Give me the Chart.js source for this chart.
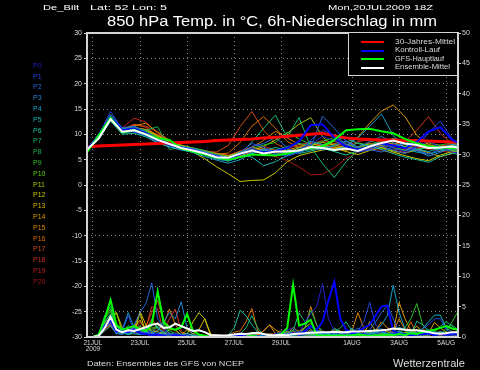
<!DOCTYPE html>
<html><head><meta charset="utf-8">
<script src="https://cdn.jsdelivr.net/npm/chart.js@4.4.1/dist/chart.umd.min.js"></script>
<style>
html,body{margin:0;padding:0;background:#000;}
#wrap{position:relative;width:480px;height:370px;overflow:hidden;background:#000;}
#c{position:absolute;left:0;top:0;}
.t{position:absolute;white-space:nowrap;font-family:'Liberation Sans',Arial,sans-serif;transform-origin:0 0;}
.g{filter:grayscale(1);}
</style></head>
<body><div id="wrap"><canvas id="c" width="480" height="370"></canvas></div>
<script>
// ---- time axes (hours after 20JUL2009 18Z) ----
const hours12 = [0,12,24,36,48,60,72,84,96,108,120,132,144,156,168,180,192,204,216,228,240,252,264,276,288,300,312,324,336,348,360,372,384];
const hours6 = [0,6,12,18,24,30,36,42,48,54,60,66,72,78,84,90,96,102,108,114,120,126,132,138,144,150,156,162,168,174,180,186,192,198,204,210,216,222,228,234,240,246,252,258,264,270,276,282,288,294,300,306,312,318,324,330,336,342,348,354,360,366,372,378,384];
const tickHours = [6,54,102,150,198,270,318,366];
const tickLabels = [['21JUL','2009'],'23JUL','25JUL','27JUL','29JUL','1AUG','3AUG','5AUG'];
const tempTicksLeft = [-30,-25,-20,-15,-10,-5,0,5,10,15,20,25,30];
const precipTicksRight = [0,5,10,15,20,25,30,35,40,45,50];

const memberNames = ['P0','P1','P2','P3','P4','P5','P6','P7','P8','P9','P10','P11','P12','P13','P14','P15','P16','P17','P18','P19','P20'];
const memberColors = ['#2222c8','#2244dc','#2266d8','#2088d0','#18a0c8','#18b2b4','#18be98','#18be70','#18b450','#2cbe28','#60c814','#a0c800','#c8c800','#d2b400','#dc9a00','#dc8400','#dc6c00','#d24c14','#d23228','#c41e1e','#a01414'];

// 850 hPa temperature (°C) per member, 12-hourly
const tP0  = [6.8,9.6,13.2,10.6,11.0,10.2,8.7,7.8,7.2,6.7,6.1,5.5,5.1,6.0,7.3,6.4,5.9,6.3,7.1,8.0,9.6,8.8,7.4,6.6,7.2,8.1,7.3,6.6,7.7,8.6,7.4,6.5,6.2];
const tP1  = [7.0,9.9,14.5,11.0,10.4,9.8,8.6,7.8,7.4,6.9,6.3,5.9,5.3,6.4,8.2,7.5,6.1,5.7,6.4,8.9,10.8,9.9,8.1,6.5,6.9,7.7,6.9,6.2,7.5,10.3,12.6,9.1,7.6];
const tP2  = [7.1,10.1,13.8,11.3,11.6,10.5,9.1,8.0,7.5,7.1,6.5,5.7,5.2,6.1,7.6,8.2,9.4,7.3,6.3,7.4,13.6,11.2,8.6,7.3,7.0,6.5,7.5,8.3,6.9,6.1,7.1,7.6,7.3];
const tP3  = [6.9,9.3,13.1,10.5,10.9,10.1,8.9,8.2,7.1,6.6,6.0,5.2,4.7,5.5,6.4,7.1,6.7,6.2,6.9,7.5,6.9,7.8,8.7,7.5,8.5,9.6,8.3,7.4,6.8,5.7,6.4,7.7,8.1];
const tP4  = [7.0,9.2,13.0,10.2,10.6,9.7,8.4,7.6,7.0,6.4,5.6,4.9,4.3,5.0,6.3,6.9,6.2,5.9,6.6,8.6,8.0,6.9,7.7,9.3,11.6,14.0,9.8,7.2,6.5,6.1,6.7,7.0,6.7];
const tP5  = [7.2,9.7,13.4,11.1,11.3,10.3,9.0,8.3,7.6,7.2,6.6,5.8,5.4,6.0,5.5,3.8,4.6,5.8,6.6,7.0,7.8,8.9,9.3,8.2,7.6,8.2,9.1,8.0,7.1,6.6,7.3,8.0,7.6];
const tP6  = [6.7,9.0,12.6,10.0,10.2,9.5,8.3,7.5,6.9,6.5,5.9,5.1,4.8,5.6,6.2,6.8,7.4,6.9,6.2,6.7,7.3,6.6,5.9,6.8,7.6,7.0,6.2,5.5,5.0,4.5,5.6,6.3,5.8];
const tP7  = [6.6,9.4,13.3,10.7,11.1,10.4,9.3,7.9,7.3,6.8,6.2,5.6,5.0,6.0,8.5,11.2,13.8,9.4,13.3,7.5,4.2,1.5,4.6,6.8,7.5,8.0,7.3,6.8,7.0,7.4,6.9,7.2,7.5];
const tP8  = [6.9,9.5,13.6,10.9,11.2,10.8,11.5,7.0,7.4,7.0,6.4,5.5,5.3,6.3,7.0,6.5,6.9,7.6,8.2,7.8,7.2,7.9,8.5,9.2,8.7,8.0,7.6,8.2,9.0,8.4,7.7,7.2,7.0];
const tP9  = [6.8,9.8,13.7,11.0,11.5,10.6,9.4,8.4,7.7,7.3,6.8,6.1,5.6,6.5,7.2,7.9,8.4,10.4,9.1,8.0,8.6,9.4,8.1,7.3,7.9,8.6,9.2,8.8,8.1,7.5,7.9,8.3,8.0];
const tP10 = [7.0,9.9,13.9,11.2,11.0,10.1,8.8,8.0,7.3,6.9,6.4,5.7,5.5,6.3,6.8,6.4,6.0,6.5,7.3,7.9,7.2,6.7,7.4,8.3,7.8,7.2,6.8,7.6,8.4,7.8,7.1,6.8,6.5];
const tP11 = [7.1,9.5,13.1,10.6,11.4,10.8,9.6,8.5,7.8,7.2,6.6,6.0,5.6,6.2,6.8,7.6,8.9,10.2,12.0,13.3,9.5,7.6,6.9,7.5,8.1,7.4,6.7,6.3,6.9,7.5,7.0,6.6,6.9];
const tP12 = [7.0,9.3,12.8,10.3,10.9,10.0,8.8,7.9,7.2,6.5,5.2,3.6,2.2,0.7,0.9,1.0,2.4,4.6,5.8,6.4,6.9,7.3,6.6,6.0,6.8,7.4,6.5,5.8,5.2,4.8,5.9,6.6,6.3];
const tP13 = [6.9,9.7,13.5,10.9,11.3,10.6,9.5,8.4,7.7,7.0,6.2,5.4,4.9,5.8,6.5,7.2,6.8,6.3,7.0,7.8,8.4,7.9,7.2,6.6,7.1,7.8,8.3,7.6,7.0,6.4,5.6,6.2,6.8];
const tP14 = [7.2,9.9,13.6,11.0,11.4,10.9,9.8,8.6,7.6,6.9,6.3,5.8,5.7,6.6,7.2,6.9,6.4,6.9,7.5,8.2,7.6,7.1,7.8,9.4,12.2,14.6,15.8,13.5,9.8,8.0,7.4,7.8,8.2];
const tP15 = [7.1,9.6,13.0,10.8,11.7,12.2,10.4,8.8,7.9,7.3,6.7,6.2,5.8,6.5,7.4,8.8,10.6,9.3,8.0,7.4,7.9,8.6,8.0,7.3,6.9,7.5,8.1,8.8,8.2,7.6,7.1,7.4,7.7];
const tP16 = [6.8,9.4,12.9,10.5,11.2,11.0,9.9,8.6,7.5,6.8,6.4,6.1,6.3,8.4,11.6,13.5,11.2,8.6,7.4,6.9,7.5,8.2,7.7,6.9,7.4,8.0,7.4,6.9,7.6,8.3,7.8,7.3,7.0];
const tP17 = [7.0,9.5,13.0,10.9,12.0,11.4,9.7,8.3,7.4,7.0,6.6,6.5,7.8,11.5,14.5,10.8,8.2,7.1,6.6,7.3,8.0,7.4,6.8,7.5,8.3,7.6,6.9,6.4,7.1,7.8,7.3,6.9,7.2];
const tP18 = [7.1,9.8,13.2,11.1,11.8,11.6,10.5,8.7,7.7,7.1,6.8,6.3,5.9,6.7,7.5,7.0,6.6,7.2,7.9,8.4,7.8,7.3,7.8,8.5,9.1,8.4,7.9,8.6,10.8,13.5,10.2,8.1,7.4];
const tP19 = [6.9,9.6,12.9,11.3,13.2,12.4,10.2,8.5,7.6,7.0,6.5,5.9,5.4,6.1,6.9,7.6,7.0,6.5,7.2,8.1,8.8,8.0,7.3,6.8,7.4,8.1,8.7,8.0,7.5,7.0,7.6,8.2,7.9];
const tP20 = [7.0,9.3,12.7,10.4,11.0,10.3,9.1,8.1,7.3,6.7,6.0,5.3,4.9,5.7,6.6,6.2,5.6,4.8,3.6,2.0,2.1,3.4,5.2,6.5,7.2,6.8,6.3,7.0,7.7,7.2,6.7,6.4,6.8];
const tempControl = [7.0,9.7,13.5,10.8,11.2,10.2,9.0,8.1,7.4,6.9,6.2,5.6,5.2,6.1,6.8,6.4,6.7,7.3,8.6,11.8,12.0,9.3,7.6,7.0,7.6,8.3,7.8,7.2,8.5,10.6,11.4,8.9,7.8];
const tempMain    = [6.5,9.8,13.3,10.4,10.9,10.0,9.2,8.9,7.2,6.6,6.0,5.4,5.0,5.5,6.0,5.9,5.8,6.2,6.9,7.3,7.6,8.9,10.8,11.0,11.1,10.6,10.2,9.1,8.2,7.6,7.4,7.3,7.3];
const tempMean    = [7.0,9.2,13.0,10.5,10.8,10.0,8.9,8.1,7.3,6.8,6.2,5.5,5.4,6.2,6.8,6.2,6.6,6.6,6.8,7.5,7.3,6.9,7.2,6.7,7.6,8.3,8.8,8.2,7.9,7.3,7.4,7.6,7.2];
const tempClim    = [7.5,7.7,7.8,7.9,8.0,8.1,8.2,8.3,8.4,8.5,8.6,8.8,8.9,9.0,9.1,9.3,9.4,9.6,9.8,10.0,10.2,9.7,9.3,9.1,9.0,8.9,8.9,8.8,8.8,8.7,8.6,8.5,8.5];

// 6h precipitation (mm) per member, 6-hourly
const pP0  = [0,0,0.3,1.5,2.5, 1.0,0.8,1.6,0.5,0.9, 1.5,0.4,0.6,1.2,0.3, 0.6,0.2,0.4,0,0, 0,0,0,0.2,0, 0,0.1,0,0.3,0, 0.2,0,0.5,0.8,1.2, 1.5,0.6,2.5,3.8,5.0, 8.8,3.0,1.0,0.4,0.6, 1.0,0.4,0.6,0.3,0.5, 0.8,1.2,0.6,0.3,0.5, 0.2,0.4,0.8,0.5,0.3, 0.4,0.2,0.3,0.5,0.3];
const pP1  = [0,0,0.4,2.0,3.0, 1.4,0.9,3.5,1.0,0.8, 0.6,1.0,0.2,0.5,0.3, 0.4,0.1,0,0,0, 0,0,0,0,0, 0,0.4,0.2,0,0.2, 0,0.2,0.4,0.6,0.3, 0.5,0.9,0.6,1.8,1.0, 0.6,0.3,0.8,0.5,0.3, 0.5,1.0,2.5,5.7,2.0, 1.2,0.6,0.4,0.3,0.2, 0.6,0.3,1.4,2.0,3.0, 3.0,1.2,0.5,0.3,0.2];
const pP2  = [0,0,0.2,1.5,2.2, 0.6,0.4,0.9,2.0,4.0, 5.5,8.9,3.0,1.5,0.5, 0.5,0.4,0.2,0.1,0, 0.1,0,0,0,0, 0.3,0,0,0,0.2, 0,0,0.3,0.6,1.1, 0.5,0.3,0.4,1.0,0.6, 0.2,0.4,0.6,0.3,0.2, 0.8,1.5,0.6,1.2,2.5, 4.0,5.2,3.0,0.8,0.4, 0.3,0.2,0.5,0.3,0.8, 0.6,0.4,0.8,0.6,0.4];
const pP3  = [0,0,0.3,2.0,3.4, 1.2,0.8,0.6,1.8,0.5, 0.4,0.5,1.0,2.5,4.0, 3.0,5.8,1.5,0.4,0.2, 0.2,0,0,0,0, 0,0.3,0,0,0, 0.5,0.2,0.2,0.4,0.7, 0.3,0.5,0.4,0.6,1.2, 0.8,0.4,0.4,0.6,1.0, 0.3,0.3,0.4,0.6,0.8, 1.0,0.3,0.5,0.8,0.4, 0.6,0.4,0.6,1.2,0.5, 0.4,0.6,0.3,0.5,0.4];
const pP4  = [0,0,0.2,1.8,2.8, 0.9,1.2,4.0,1.5,1.2, 0.8,0.6,0.3,0.3,0.6, 0.3,0.5,0.2,0,0, 0,0,0,0,0, 0.5,0.2,0,0.2,0, 0,0,0.1,0.4,0.2, 0.6,0.4,0.3,0.8,0.4, 0.6,0.5,0.8,0.3,0.5, 1.5,0.4,0.6,0.5,0.9, 2.0,3.5,8.5,4.0,1.4, 0.6,0.6,0.3,0.9,0.4, 0.9,0.5,0.4,0.3,0.3];
const pP5  = [0,0,0.2,1.0,1.8, 0.5,0.7,0.4,0.6,0.4, 1.0,2.5,1.5,0.8,0.5, 0.3,0.3,0.6,0.2,0, 0,0.2,0,0,0, 0.4,0,0,0.6,0.2, 0.3,0.1,0.2,0.5,0.3, 0.2,0.5,0.4,0.3,0.2, 0.5,0.4,0.3,0.6,0.3, 0.8,0.5,0.3,0.4,0.7, 1.3,0.5,0.8,1.6,1.2, 0.5,0.8,1.4,2.5,3.6, 3.6,1.5,0.8,0.5,0.4];
const pP6  = [0,0,0.3,2.5,3.8, 1.0,0.6,0.5,0.8,1.0, 0.6,0.4,0.6,0.5,0.4, 0.2,0.3,0.2,0,0, 0,0,0,0,0.3, 1.5,4.4,3.5,2.0,0.8, 0.2,0,0,0.2,0.6, 0.4,0.8,0.6,0.5,0.8, 0.6,0.5,1.5,0.8,0.4, 0.3,0.6,0.4,1.0,0.5, 0.8,0.4,0.6,1.0,0.5, 0.4,2.6,2.0,1.0,0.8, 0.6,0.4,0.6,0.5,0.4];
const pP7  = [0,0,0.4,3.5,5.0, 1.6,1.2,1.0,1.2,1.8, 1.0,0.6,1.8,0.4,0.3, 0.4,0.2,0.5,0.3,0.1, 0,0,0,0,0, 0.3,0.5,1.5,3.5,1.5, 0.2,0.5,0.3,0.5,0.3, 1.0,4.0,2.5,1.2,0.6, 0.4,0.4,0.8,1.5,2.5, 1.0,0.6,0.4,0.3,0.8, 0.5,0.5,0.3,0.8,0.5, 0.3,0.6,0.4,0.5,0.8, 1.8,2.5,1.8,0.9,0.6];
const pP8  = [0,0,0.3,2.0,3.2, 0.8,0.8,1.9,1.0,1.2, 1.0,2.5,7.5,2.0,0.6, 0.4,0.4,0.3,0.2,0, 0,0,0,0.2,0, 0,0.2,0,0.3,0, 0.3,0,0,0.6,0.4, 1.2,0.4,1.5,4.4,2.0, 1.0,0.5,0.5,0.3,0.3, 0.9,0.4,0.3,0.4,0.2, 0.6,0.4,0.4,0.3,0.3, 0.9,0.5,0.4,0.5,0.3, 0.4,1.5,2.0,1.2,0.8];
const pP9  = [0,0,0.5,3.0,4.2, 1.8,1.0,0.7,0.5,0.5, 0.6,1.2,2.0,2.2,1.0, 0.6,0.4,0.4,0.2,0.2, 0,0,0,0,0, 0,0.2,0,0,0.2, 0,0.3,0.2,0.2,0.5, 0.3,0.6,0.4,0.6,0.5, 0.4,0.5,0.5,0.6,0.3, 0.6,0.4,0.6,0.8,0.4, 0.8,0.5,0.5,0.6,1.5, 3.0,5.5,2.0,1.0,0.6, 0.6,0.9,2.5,4.2,3.0];
const pP10 = [0,0,0.4,3.2,4.6, 1.2,1.0,1.0,0.6,0.6, 0.8,1.5,1.5,0.4,0.3, 0.3,0.3,0.3,0,0, 0,0,0,0,0, 0.3,0,0,0,0, 0.5,0.4,0.4,0.3,0.3, 0.2,0.2,0.8,0.4,0.4, 0.6,0.3,0.3,0.4,0.4, 1.1,0.6,0.6,0.3,0.3, 0.5,0.8,0.6,0.4,0.8, 0.6,0.4,0.3,0.3,0.5, 0.4,0.3,0.5,0.4,0.3];
const pP11 = [0,0,0.3,2.4,3.6, 4.0,0.7,1.3,0.9,0.9, 2.0,0.6,0.5,0.5,1.2, 1.2,0.3,0.3,0.2,0, 0,0,0,0,0, 0.2,0.5,0,0,0, 0,0,0.2,0.4,0.6, 0.3,0.5,0.3,0.3,0.3, 0.5,0.6,0.8,0.5,0.5, 0.3,0.7,0.4,0.6,0.4, 0.6,0.3,0.5,0.8,0.4, 0.3,0.5,0.6,0.4,0.8, 0.8,0.4,0.6,0.5,0.4];
const pP12 = [0,0,0.2,1.8,2.6, 4.0,1.5,0.8,0.6,4.0, 0.6,0.9,0.9,0.4,0.3, 0.6,0.4,0.5,2.5,4.0, 3.0,0.5,0.2,0,0, 0.4,0.2,0,0.8,0, 0.3,0,0.2,0.4,0.6, 0.3,0.5,0.6,0.3,0.5, 0.6,0.3,0.6,0.3,0.8, 0.4,0.5,0.4,0.6,0.3, 0.5,0.4,0.3,0.6,0.3, 0.5,0.4,0.3,0.5,0.4, 0.3,0.5,0.4,0.3,0.3];
const pP13 = [0,0,0.3,2.2,3.0, 0.9,0.6,0.6,1.5,4.2, 2.0,1.0,0.8,0.6,0.6, 0.5,0.3,1.2,0.5,1.2, 3.0,0.2,0,0,0, 0,0.3,0.2,0,0, 0,0,0.5,0.3,0.9, 0.5,0.8,1.5,2.3,1.0, 0.4,0.6,1.2,1.0,0.5, 0.6,0.5,0.4,2.5,1.0, 0.6,0.4,0.6,0.4,0.6, 0.9,1.8,0.8,0.6,0.4, 0.5,0.8,0.6,0.4,0.4];
const pP14 = [0,0,0.3,1.8,2.4, 0.8,1.1,0.7,1.4,2.8, 1.0,0.5,0.5,0.4,0.2, 0.6,0.2,0,0,0, 0,0,0,0.2,0, 0.4,0,0.2,0.3,0.4, 1.0,2.0,1.2,0.6,0.4, 1.6,0.8,0.5,1.2,0.6, 0.4,0.7,0.6,0.4,0.5, 1.2,0.6,0.4,0.6,1.0, 2.5,1.5,0.7,5.7,3.0, 1.0,0.5,1.4,0.6,2.4, 1.5,0.8,0.5,1.0,0.6];
const pP15 = [0,0,0.4,2.0,2.9, 1.3,0.7,0.9,1.6,1.0, 0.8,0.5,1.2,2.0,4.6, 2.0,0.7,0.5,0.3,0, 0,0,0,0,0, 0,0.4,0,0.6,0.3, 1.0,2.0,0.5,1.0,0.5, 0.6,1.0,1.5,5.0,2.0, 0.6,0.8,0.4,0.8,0.4, 1.0,4.0,1.5,0.5,0.6, 0.6,1.0,0.8,3.0,1.2, 0.5,1.2,0.6,0.8,0.5, 0.8,0.4,0.6,0.5,0.4];
const pP16 = [0,0,0.2,1.4,2.0, 0.6,1.5,0.8,0.5,0.8, 1.2,3.0,1.5,0.9,0.5, 0.3,0.3,0.2,0.2,0, 0,0,0,0.2,0.3, 0.8,1.0,2.5,4.7,1.0, 0.3,0.5,0.4,0.4,0.8, 0.6,0.5,0.4,0.9,0.6, 0.5,0.6,0.8,0.4,0.6, 0.8,0.4,0.6,0.5,0.9, 0.5,0.4,0.6,0.4,0.6, 2.5,0.4,0.6,0.8,0.6, 0.5,0.4,0.6,0.5,0.4];
const pP17 = [0,0,0.2,1.6,2.3, 1.0,0.6,0.8,2.0,1.5, 1.8,4.0,6.0,2.5,1.8, 1.0,0.4,0.2,0.2,0, 0,0,0,0,0, 0,0.5,0.3,0,0, 0,0.2,0.4,0.3,0.6, 0.9,0.4,0.6,0.5,0.4, 0.6,0.5,0.8,0.6,0.4, 0.4,0.6,0.5,0.8,0.6, 0.4,0.6,0.5,0.4,0.6, 0.8,0.4,0.6,0.5,0.4, 0.6,0.5,0.4,0.6,0.5];
const pP18 = [0,0,0.3,1.8,2.7, 0.8,0.9,0.6,0.8,1.0, 1.5,5.0,4.6,0.8,3.0, 4.6,1.0,0.3,0.6,0.2, 0.2,0,0,0,0.2, 0.3,0,0,0.4,0.2, 0.4,0.2,0.5,0.4,0.6, 0.4,0.6,1.0,0.4,0.6, 0.3,0.5,0.9,0.4,0.7, 0.5,0.3,0.5,0.4,0.6, 0.5,0.3,0.9,0.4,0.6, 0.7,0.5,0.3,0.5,0.4, 0.6,0.4,0.5,0.4,0.3];
const pP19 = [0,0,0.2,1.2,2.1, 0.7,0.5,1.2,0.8,2.4, 1.5,0.6,2.4,0.6,0.4, 0.2,0,0,0,0, 0,0,0,0,0, 0,0.2,0.4,0.2,0.4, 0.2,0.6,0.4,0.3,0.5, 0.4,0.3,0.6,0.5,0.4, 0.6,0.3,0.5,0.4,0.3, 0.5,0.4,0.3,0.6,0.5, 0.4,0.3,0.6,0.4,0.3, 0.5,0.3,0.4,0.3,0.5, 0.3,0.4,0.5,0.3,0.4];
const pP20 = [0,0,0.2,1.0,1.9, 0.6,0.8,0.5,0.9,0.5, 0.6,0.5,0.5,0.3,0.3, 0.4,0.2,0,0,0, 0,0,0,0,0, 0.3,0.2,0,0.5,0.3, 0.2,0.5,0.3,0.6,0.4, 0.3,0.8,0.5,0.3,0.8, 0.5,0.4,0.6,0.3,0.4, 0.6,0.3,0.5,0.4,0.6, 0.3,0.5,0.4,0.3,0.6, 0.4,0.5,0.3,0.5,0.4, 0.3,0.5,0.4,0.3,0.3];
const precipControl = [0,0,0.3,1.8,2.8, 0.9,1.0,0.8,1.2,0.6, 0.5,0.3,0.4,0.2,0, 0.3,0.2,0,0,0, 0,0,0,0,0, 0.3,0.2,0,0,0, 0,0,0.4,0.3,0.3, 0.6,0.4,1.0,1.8,1.2, 2.5,6.0,9.1,3.0,1.2, 0.6,0.8,1.5,2.0,3.5, 5.0,5.2,1.0,0.5,0.4, 0.3,0.5,0.4,0.6,0.3, 0.5,0.4,0.6,0.4,0.4];
const precipMain    = [0,0,0.4,3.0,6.1, 2.0,1.2,1.5,1.8,1.3, 1.0,2.0,7.5,2.5,1.5, 1.2,1.6,3.8,1.0,0.4, 0.2,0,0,0,0, 0,0,0,0.2,0, 0,0,0.3,0.5,1.5, 8.6,1.9,2.2,2.8,0.3, 0.2,0.3,0.2,0.3,0.2, 0.3,0.4,0.3,0.2,0.3, 0.2,0.4,0.3,0.5,0.3, 0.6,0.5,0.8,1.0,1.2, 1.5,1.8,1.4,1.2,1.0];
const precipMean    = [0,0,0.2,1.5,3.3, 1.2,0.8,1.1,1.0,1.3, 1.6,2.0,2.2,1.5,1.6, 2.2,1.8,1.4,1.0,1.1, 0.8,0.3,0.3,0.25,0.3, 0.4,0.55,0.5,0.6,0.7, 0.5,0.3,0.3,0.35,0.3, 0.5,0.55,0.6,0.7,0.75, 0.8,0.8,0.85,0.8,0.8, 0.9,0.9,0.95,1.0,1.05, 1.1,1.2,1.4,1.3,1.2, 1.1,1.1,1.0,0.8,0.6, 0.55,0.6,0.8,0.8,0.7];

const tempMembers = [tP0,tP1,tP2,tP3,tP4,tP5,tP6,tP7,tP8,tP9,tP10,tP11,tP12,tP13,tP14,tP15,tP16,tP17,tP18,tP19,tP20];
const precipMembers = [pP0,pP1,pP2,pP3,pP4,pP5,pP6,pP7,pP8,pP9,pP10,pP11,pP12,pP13,pP14,pP15,pP16,pP17,pP18,pP19,pP20];

const legendNames = ['30-Jahres-Mittel','Kontroll-Lauf','GFS-Hauptlauf','Ensemble-Mittel'];
const legendColors = ['#ff0000','#0000ff','#00ff00','#ffffff'];

// ---- build datasets ----
const ds = [];
function line(label, arr, hrs, color, width, axis, order){
  ds.push({label, data:arr.map((v,i)=>({x:hrs[i], y:v})), borderColor:color, borderWidth:width, yAxisID:axis, order,
    pointRadius:0, tension:0, fill:false});
}
tempMembers.forEach((a,i)=>line(memberNames[i]+' T', a, hours12, memberColors[i], 1, 'yT', 10));
precipMembers.forEach((a,i)=>line(memberNames[i]+' RR', a, hours6, memberColors[i], 1, 'yP', 10));
line(legendNames[0], tempClim, hours12, '#ff0000', 3, 'yT', 3);
line(legendNames[1]+' T', tempControl, hours12, '#0000ff', 2, 'yT', 2);
line(legendNames[1]+' RR', precipControl, hours6, '#0000ff', 2, 'yP', 2);
line(legendNames[2]+' T', tempMain, hours12, '#00ff00', 2, 'yT', 1);
line(legendNames[2]+' RR', precipMain, hours6, '#00ff00', 2, 'yP', 1);
line(legendNames[3]+' T', tempMean, hours12, '#ffffff', 2, 'yT', 0);
line(legendNames[3]+' RR', precipMean, hours6, '#ffffff', 2, 'yP', 0);

const tickFont = {family:"'Liberation Sans', Arial, sans-serif", size:7};
const frame = {
  id:'frame',
  afterDraw(chart){
    const {ctx, chartArea:a} = chart;
    ctx.save();
    ctx.strokeStyle = '#d4d4d4'; ctx.lineWidth = 2;
    ctx.strokeRect(a.left, a.top, a.right-a.left, a.bottom-a.top);
    ctx.restore();
  }
};

new Chart(document.getElementById('c'), {
  type:'line',
  data:{datasets:ds},
  options:{
    responsive:false, animation:false, devicePixelRatio:1,
    layout:{padding:{top:33,left:0,right:0,bottom:0}},
    plugins:{legend:{display:false}, tooltip:{enabled:false}},
    scales:{
      x:{type:'linear', min:0, max:378,
        afterBuildTicks:s=>{ s.ticks = tickHours.map(v=>({value:v})); },
        afterFit:s=>{ s.height = 33; },
        ticks:{color:'#dcdcdc', font:{family:tickFont.family,size:6.5,lineHeight:0.95}, padding:3, maxRotation:0, autoSkip:false,
          callback:v=>{ const k = tickHours.indexOf(v); return k>=0 ? tickLabels[k] : ''; }},
        grid:{color:'#8a8a8a', drawTicks:false},
        border:{display:false, dash:[1,3]}
      },
      yT:{type:'linear', position:'left', min:-30, max:30,
        afterBuildTicks:s=>{ s.ticks = tempTicksLeft.map(v=>({value:v})); },
        afterFit:s=>{ s.width = 87; },
        ticks:{color:'#dcdcdc', font:tickFont, padding:2},
        grid:{color:'#8a8a8a', tickLength:3, tickColor:'#cfcfcf', tickBorderDash:[], tickWidth:1},
        border:{display:false, dash:[1,3]}
      },
      yP:{type:'linear', position:'right', min:0, max:50,
        afterBuildTicks:s=>{ s.ticks = precipTicksRight.map(v=>({value:v})); },
        afterFit:s=>{ s.width = 22; },
        ticks:{color:'#dcdcdc', font:tickFont, padding:1},
        grid:{drawOnChartArea:false, tickLength:3, tickColor:'#cfcfcf', tickWidth:1},
        border:{display:false}
      }
    }
  },
  plugins:[frame]
});

// ---- surrounding text ----
const wrap = document.getElementById('wrap');
function put(txt, x, base, size, w, color, grey){
  const d = document.createElement('div');
  d.className = 't' + (grey ? ' g' : ''); d.textContent = txt;
  d.style.left = x+'px'; d.style.top = (base - 0.847*size)+'px';
  d.style.fontSize = size+'px'; d.style.lineHeight = size+'px'; d.style.color = color;
  wrap.appendChild(d);
  if (w){
    const cur = d.getBoundingClientRect().width;
    d.style.transform = 'scaleX(' + (w / cur) + ')';
  }
  return d;
}
put('De_Bilt', 43, 10.5, 7.5, 36, '#ffffff', true);
put('Lat: 52 Lon: 5', 90, 10.5, 7.5, 77, '#ffffff', true);
put('Mon,20JUL2009 18Z', 328, 10.5, 7.5, 105, '#ffffff', true);
put('850 hPa Temp. in °C, 6h-Niederschlag in mm', 107, 25.7, 14, 330, '#ffffff', true);
memberNames.forEach((n,i)=>put(n, 33, 67.7 + i*10.8, 7, 0, memberColors[i], false));
put('Daten: Ensembles des GFS von NCEP', 87, 366, 7, 157, '#dcdcdc', true);
put('Wetterzentrale', 393, 367, 10, 72, '#dcdcdc', true);

// legend box
const box = document.createElement('div');
box.style.cssText = 'position:absolute;left:348px;top:32px;width:110px;height:44px;background:#000;border:1px solid #d4d4d4;box-sizing:border-box;';
wrap.appendChild(box);
const rowsY = [42,50.5,59,67.5];
const textW = [60,45,49,55];
legendNames.forEach((n,i)=>{
  const l = document.createElement('div');
  l.style.cssText = 'position:absolute;left:361px;width:23px;height:2px;top:'+(rowsY[i]-1)+'px;background:'+legendColors[i]+';';
  wrap.appendChild(l);
  put(n, 395, rowsY[i]+2.3, 6.5, textW[i], '#dcdcdc', true);
});
</script></body></html>
